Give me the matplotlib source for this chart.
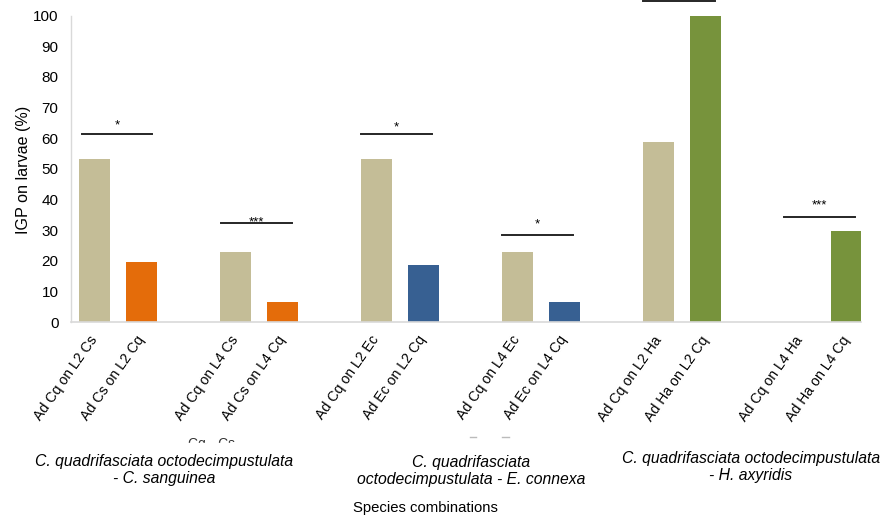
import matplotlib
matplotlib.use("Agg")
import matplotlib.pyplot as plt
from matplotlib.patches import Rectangle
from matplotlib.lines import Line2D

plt.rcParams['font.family'] = ['Liberation Sans', 'DejaVu Sans']

# ---- data ----
labels = ["Ad Cq on L2 Cs", "Ad Cs on L2 Cq",
          "Ad Cq on L4 Cs", "Ad Cs on L4 Cq",
          "Ad Cq on L2 Ec", "Ad Ec on L2 Cq",
          "Ad Cq on L4 Ec", "Ad Ec on L4 Cq",
          "Ad Cq on L2 Ha", "Ad Ha on L2 Cq",
          "Ad Cq on L4 Ha", "Ad Ha on L4 Cq"]
values = [53.1, 19.7, 23.0, 6.5, 53.1, 18.6, 23.0, 6.5, 58.7, 100.0, 0.0, 29.7]
slots = [0, 1, 3, 4, 6, 7, 9, 10, 12, 13, 15, 16]
bar_colors = ["#C4BD97", "#E46C0A", "#C4BD97", "#E46C0A",
              "#C4BD97", "#376092", "#C4BD97", "#376092",
              "#C4BD97", "#77933C", "#C4BD97", "#77933C"]

# significance brackets: (left slot, right slot, line level, label, label level)
sig_x0 = [-0.27, 2.69, 5.67, 8.67, 11.67, 14.67]
sig_x1 = [1.23, 4.21, 7.19, 10.19, 13.20, 16.19]
sig_y = [61.3, 32.3, 61.3, 28.4, 104.9, 34.2]
sig_lab = ["*", "***", "*", "*", "", "***"]
sig_lab_y = [62.3, 30.4, 61.6, 30.0, 110, 36.0]

group_labels = ["C. quadrifasciata octodecimpustulata\n- C. sanguinea",
                "C. quadrifasciata\noctodecimpustulata - E. connexa",
                "C. quadrifasciata octodecimpustulata\n- H. axyridis"]
yticks = list(range(0, 101, 10))

W, H = 890, 518
fig = plt.figure(figsize=(W / 100, H / 100), dpi=100)
ax_left, ax_right = 71, 860.6
ax_top, ax_bottom = 15.67, 322
ax = fig.add_axes([ax_left / W, 1 - ax_bottom / H,
                   (ax_right - ax_left) / W, (ax_bottom - ax_top) / H])

ax.bar(slots, values, width=0.66, color=bar_colors, zorder=2)
ax.set_xlim(-0.5, 16.3)
ax.set_ylim(0, 100)
ax.set_yticks(yticks)
ax.tick_params(axis='y', length=0, pad=9, labelsize=11, labelcolor='#000000')
ax.set_xticks(slots)
ax.set_xticklabels(labels, rotation=55, ha='right', va='center',
                   rotation_mode='anchor', fontsize=10.2)
ax.tick_params(axis='x', length=0, pad=11)

for s in ['top', 'right']:
    ax.spines[s].set_visible(False)
ax.spines['left'].set_color('#D9D9D9')
ax.spines['bottom'].set_color('#D9D9D9')
ax.spines['left'].set_linewidth(1.0)
ax.spines['bottom'].set_linewidth(1.2)

for x0, x1, y, lab, ly in zip(sig_x0, sig_x1, sig_y, sig_lab, sig_lab_y):
    ax.plot([x0, x1], [y, y], color='#262626', lw=1.4, clip_on=False, zorder=3)
    if lab:
        ax.text((x0 + x1) / 2, ly, lab, ha='center', va='bottom', fontsize=9.5,
                color='#000000', zorder=4)

ax.set_ylabel("IGP on larvae (%)", fontsize=11.6)
ax.yaxis.set_label_coords(-(ax_left - 31) / (ax_right - ax_left),
                          1 - (170 - ax_top) / (ax_bottom - ax_top))

# faint clipped remnants below the tick labels
fig.text(212 / W, 1 - 444 / H, "Cq - Cs", ha='center', va='center', fontsize=10,
         color='#333333')
fig.add_artist(Rectangle((150 / W, 1 - 460 / H), 130 / W, 17 / H,
                         transform=fig.transFigure, color='white', zorder=5))
for xa, xb in [(470, 476), (502, 509)]:
    fig.add_artist(Line2D([xa / W, xb / W], [1 - 437 / H, 1 - 437 / H],
                          transform=fig.transFigure, color='#BBBBBB', lw=1))

gx = [164, 471.5, 751]
gy = [470, 471, 467]
for x, y, t in zip(gx, gy, group_labels):
    fig.text(x / W, 1 - y / H, t, ha='center', va='center', fontsize=11.3,
             style='italic', linespacing=1.1, zorder=6)

fig.text(425 / W, 1 - 508 / H, "Species combinations", ha='center', va='center',
         fontsize=10.7)

fig.savefig("out.png", dpi=100)
